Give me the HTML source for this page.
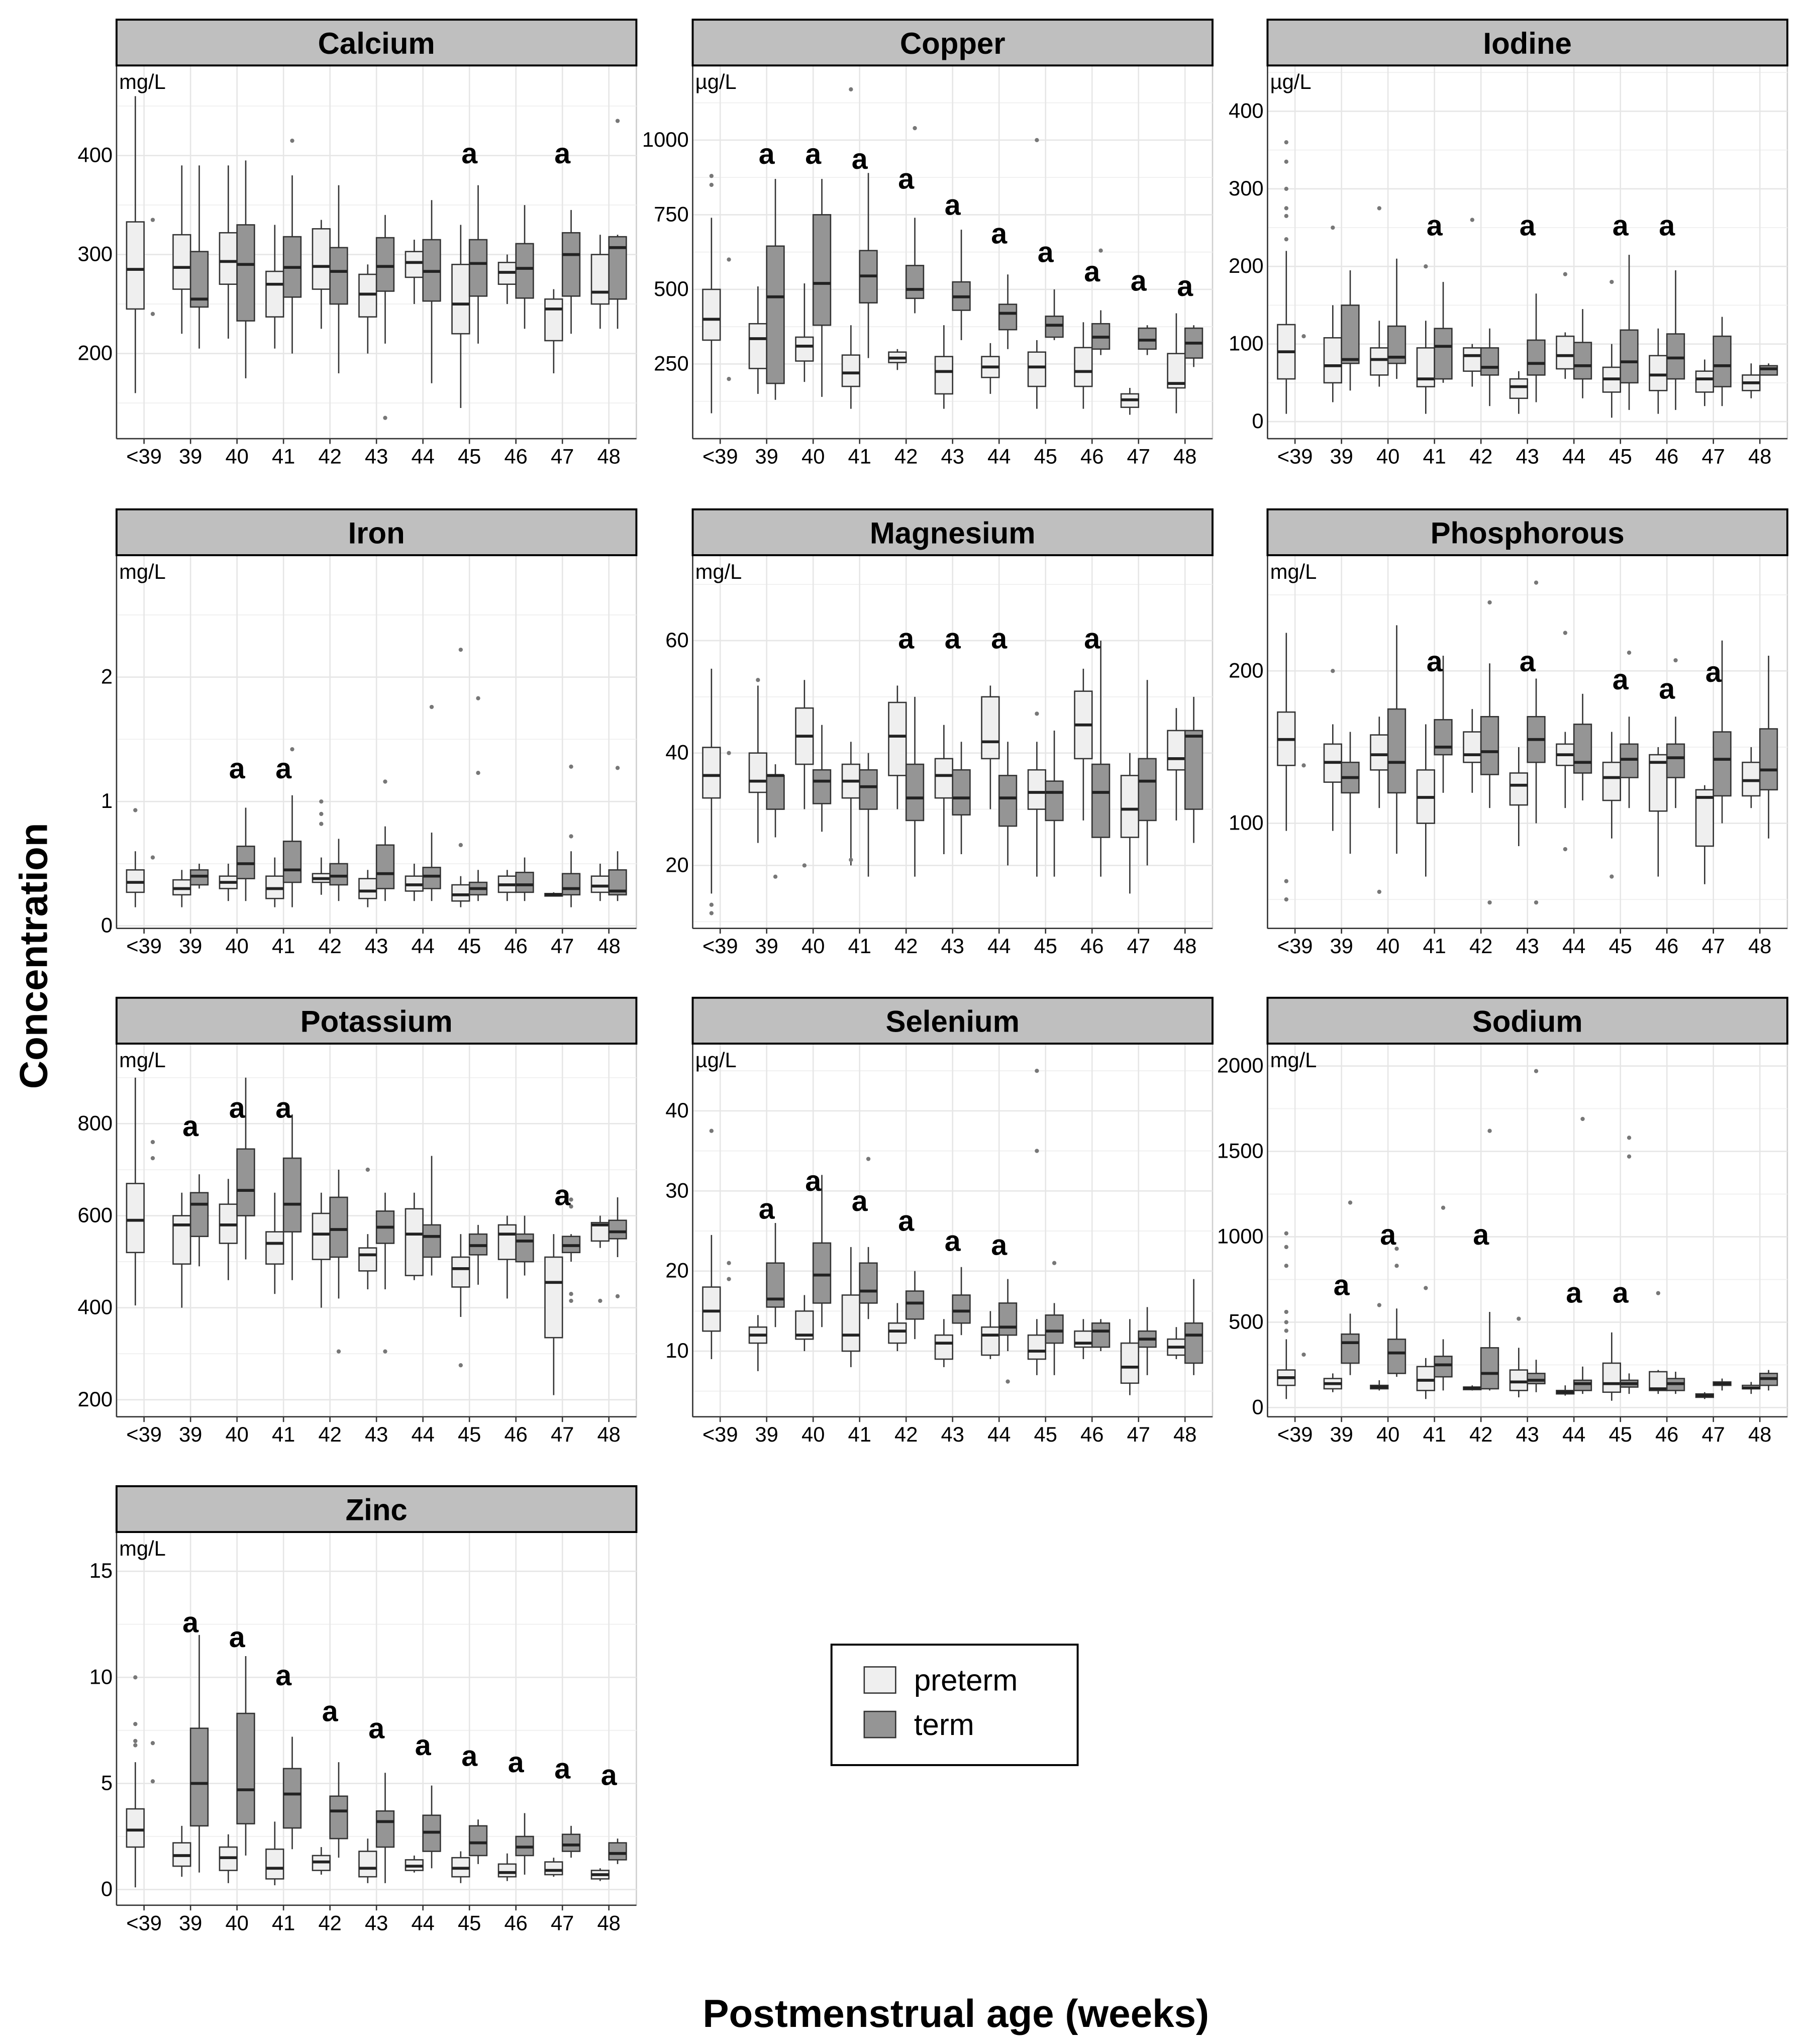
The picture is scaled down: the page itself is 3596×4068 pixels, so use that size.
<!DOCTYPE html>
<html><head><meta charset="utf-8"><style>
html,body{margin:0;padding:0;background:#fff;}
svg{display:block;}
text{font-family:"Liberation Sans","DejaVu Sans",sans-serif;}
</style></head><body>
<svg id="chart" width="3596" height="4068" viewBox="0 0 1380 1561" preserveAspectRatio="none" xmlns="http://www.w3.org/2000/svg">
<rect x="0" y="0" width="1380" height="1561" fill="#fff"/>
<text x="28" y="730" transform="rotate(-90 28 730)" text-anchor="middle" dominant-baseline="middle" font-size="30" font-weight="bold">Concentration</text>
<text x="730" y="1548" text-anchor="middle" font-size="30" font-weight="bold">Postmenstrual age (weeks)</text>
<g>
<rect x="635" y="1256" width="188" height="92" fill="#fff" stroke="#000" stroke-width="1.5"/>
<rect x="660" y="1273" width="24" height="20" fill="#efefef" stroke="#333"/>
<text x="698" y="1291" font-size="23">preterm</text>
<rect x="660" y="1307" width="24" height="20" fill="#959595" stroke="#333"/>
<text x="698" y="1325" font-size="23">term</text>
</g>
<g id="panels"></g>
</svg>
<script>
const categories = ["<39","39","40","41","42","43","44","45","46","47","48"];

const calciumPreterm = [[160,245,285,333,460],[220,265,287,320,390],[215,270,293,322,390],[205,237,270,283,330],[225,265,288,326,335],[200,237,260,280,290],[250,277,292,303,315],[145,220,250,290,330],[250,270,282,292,300],[180,213,245,255,265],[225,250,262,300,320]];
const calciumTerm = [null,[205,247,255,303,390],[175,233,290,330,395],[200,257,287,318,380],[180,250,283,307,370],[210,263,288,317,340],[170,253,283,315,355],[210,258,291,315,370],[225,256,286,311,350],[220,258,300,322,345],[225,255,307,318,320]];
const calciumSig = [null,null,null,null,null,null,null,400,null,400,null];
const calciumOut = [[0,1,335],[0,1,240],[3,1,415],[5,1,135],[10,1,435]];

const copperPreterm = [[85,330,400,500,740],[150,235,335,385,510],[190,260,310,340,520],[100,175,220,280,380],[230,255,270,290,300],[100,150,225,275,380],[150,205,240,275,320],[100,175,240,290,330],[100,175,225,305,390],[80,105,130,150,170],[85,170,185,285,420]];
const copperTerm = [null,[130,185,475,645,870],[140,380,520,750,870],[270,455,545,630,890],[420,470,500,580,740],[330,430,475,525,700],[300,365,420,450,550],[330,340,380,410,500],[280,300,340,385,430],[280,300,330,370,380],[240,270,320,370,380]];
const copperSig = [null,947,947,930,864,776,680,618,553,522,504];
const copperOut = [[0,0,880],[0,0,850],[0,1,600],[0,1,200],[3,0,1170],[4,1,1040],[7,0,1000],[8,1,630]];

const iodinePreterm = [[10,55,90,125,220],[25,50,72,108,150],[45,60,80,95,130],[10,45,55,95,130],[45,65,85,95,100],[10,30,45,55,65],[55,68,85,110,115],[5,38,55,70,100],[10,40,60,85,120],[20,38,55,65,80],[30,40,50,60,75]];
const iodineTerm = [null,[40,75,80,150,195],[55,75,83,123,210],[50,55,97,120,180],[20,60,70,95,120],[25,60,75,105,165],[30,55,72,102,145],[15,50,77,118,215],[15,55,82,113,195],[20,45,72,110,135],[60,60,68,72,75]];
const iodineSig = [null,null,null,250,null,250,null,250,250,null,null];
const iodineOut = [[0,0,360],[0,0,335],[0,0,300],[0,0,275],[0,0,265],[0,0,235],[0,1,110],[1,0,250],[2,0,275],[3,0,200],[4,0,260],[6,0,190],[7,0,180]];

const ironPreterm = [[0.15,0.27,0.35,0.45,0.6],[0.15,0.25,0.3,0.37,0.45],[0.2,0.3,0.35,0.4,0.5],[0.15,0.22,0.3,0.4,0.55],[0.25,0.35,0.38,0.42,0.55],[0.15,0.22,0.28,0.38,0.45],[0.2,0.28,0.33,0.4,0.5],[0.15,0.2,0.25,0.33,0.4],[0.2,0.27,0.33,0.4,0.45],[0.24,0.24,0.25,0.26,0.27],[0.2,0.27,0.32,0.4,0.5]];
const ironTerm = [null,[0.3,0.33,0.4,0.45,0.5],[0.2,0.38,0.5,0.64,0.95],[0.15,0.35,0.45,0.68,1.05],[0.2,0.33,0.4,0.5,0.7],[0.2,0.3,0.42,0.65,0.8],[0.2,0.3,0.4,0.47,0.75],[0.2,0.25,0.3,0.35,0.45],[0.2,0.27,0.33,0.43,0.55],[0.15,0.25,0.3,0.42,0.6],[0.2,0.25,0.28,0.45,0.6]];
const ironSig = [null,null,1.25,1.25,null,null,null,null,null,null,null];
const ironOut = [[0,0,0.93],[0,1,0.55],[3,1,1.42],[4,0,1.0],[4,0,0.9],[4,0,0.82],[5,1,1.16],[6,1,1.76],[7,0,2.22],[7,1,1.83],[7,1,1.23],[7,0,0.65],[9,1,1.28],[9,1,0.72],[10,1,1.27]];

const magnesiumPreterm = [[15,32,36,41,55],[24,33,35,40,52],[30,38,43,48,53],[20,32,35,38,42],[30,36,43,49,52],[22,32,36,39,45],[30,39,42,50,52],[18,30,33,37,42],[28,39,45,51,55],[15,25,30,36,40],[28,37,39,44,48]];
const magnesiumTerm = [null,[25,30,36,36,38],[26,31,35,37,45],[18,30,34,37,40],[18,28,32,38,50],[22,29,32,37,42],[20,27,32,36,42],[18,28,33,35,44],[18,25,33,38,60],[20,28,35,39,53],[24,30,43,44,50]];
const magnesiumSig = [null,null,null,null,60,60,60,null,60,null,null];
const magnesiumOut = [[0,0,13],[0,0,11.5],[0,1,40],[1,0,53],[1,1,18],[2,0,20],[7,0,47],[3,0,21]];

const phosphorousPreterm = [[95,138,155,173,225],[95,127,140,152,165],[110,135,145,158,170],[65,100,117,135,165],[120,140,145,160,175],[85,112,125,133,150],[110,138,145,152,160],[90,115,130,140,160],[65,108,140,145,150],[60,85,117,122,125],[110,118,128,140,150]];
const phosphorousTerm = [null,[80,120,130,140,160],[80,120,140,175,230],[120,145,150,168,210],[110,132,147,170,205],[100,140,155,170,195],[115,133,140,165,185],[110,130,142,152,170],[110,130,143,152,170],[100,118,142,160,220],[90,122,135,162,210]];
const phosphorousSig = [null,null,null,205,null,205,null,193,187,198,null];
const phosphorousOut = [[0,0,62],[0,0,50],[0,1,138],[1,0,200],[2,0,55],[4,1,245],[4,1,48],[5,1,258],[5,1,48],[6,0,225],[6,0,83],[7,0,65],[7,1,212],[8,1,207]];

const potassiumPreterm = [[405,520,590,670,900],[400,495,580,600,650],[460,540,580,625,680],[430,495,540,565,650],[400,505,560,605,650],[440,480,515,530,560],[460,470,560,615,650],[380,445,485,510,560],[420,505,560,580,600],[210,335,455,510,560],[530,545,580,585,600]];
const potassiumTerm = [null,[490,555,625,650,690],[505,600,655,745,900],[460,565,625,725,820],[420,510,570,640,700],[440,540,575,610,650],[470,510,555,580,730],[450,515,535,560,580],[470,500,545,560,600],[500,520,535,555,560],[510,550,565,590,640]];
const potassiumSig = [null,790,830,830,null,null,null,null,null,640,null];
const potassiumOut = [[0,1,760],[0,1,725],[4,1,305],[5,1,305],[5,0,700],[7,0,275],[9,1,635],[9,1,620],[9,1,430],[9,1,415],[10,0,415],[10,1,425]];

const seleniumPreterm = [[9,12.5,15,18,24.5],[7.5,11,12,13,14.5],[10,11.5,12,15,17],[8,10,12,17,23],[10,11,12.5,13.5,16],[8,9,11,12,14],[9,9.5,12,13,15],[7,9,10,12,14],[9,10.5,11,12.5,14],[4.5,6,8,11,14],[9,9.5,10.5,11.5,13]];
const seleniumTerm = [null,[13,15.5,16.5,21,26],[13,16,19.5,23.5,32],[14,16,17.5,21,23],[11.5,14,16,17.5,20],[12,13.5,15,17,20.5],[10,12,13,16,19],[7,11,12.5,14.5,16],[10,10.5,12.5,13.5,14],[7,10.5,11.5,12.5,15.5],[7,8.5,12,13.5,19]];
const seleniumSig = [null,27.5,31,28.5,26,23.5,23,null,null,null,null];
const seleniumOut = [[0,0,37.5],[0,1,21],[0,1,19],[3,1,34],[7,0,45],[7,0,35],[7,1,21],[6,1,6.2]];

const sodiumPreterm = [[50,130,175,220,400],[90,110,140,170,200],[100,110,120,130,160],[50,100,160,240,290],[100,105,115,120,130],[60,100,150,220,350],[70,80,90,100,130],[40,90,140,260,440],[80,100,110,210,220],[50,60,70,80,90],[80,110,115,130,150]];
const sodiumTerm = [null,[190,260,380,430,550],[180,200,320,400,580],[100,180,250,300,400],[100,110,200,350,560],[90,140,160,200,280],[80,100,140,160,240],[80,120,140,160,200],[80,100,140,170,210],[100,130,140,150,170],[100,130,170,200,220]];
const sodiumSig = [null,705,1000,null,1000,null,660,660,null,null,null];
const sodiumOut = [[0,0,1020],[0,0,940],[0,0,830],[0,0,560],[0,0,500],[0,0,450],[0,1,310],[1,1,1200],[2,1,930],[2,1,830],[2,0,600],[3,0,700],[3,1,1170],[4,1,1620],[5,1,1970],[5,0,520],[6,1,1690],[7,1,1580],[7,1,1470],[8,0,670]];

const zincPreterm = [[0.1,2,2.8,3.8,6],[0.6,1.1,1.6,2.2,3],[0.3,0.9,1.5,2,2.6],[0.2,0.5,1,1.9,3.2],[0.7,0.9,1.3,1.6,2],[0.3,0.6,1,1.8,2.4],[0.8,0.9,1.1,1.4,1.6],[0.3,0.6,1,1.5,1.8],[0.4,0.6,0.8,1.2,1.7],[0.6,0.7,0.9,1.3,1.5],[0.4,0.5,0.7,0.9,1]];
const zincTerm = [null,[0.8,3,5,7.6,12],[1.6,3.1,4.7,8.3,11],[1.9,2.9,4.5,5.7,7.2],[1.5,2.4,3.7,4.4,6],[0.3,2,3.2,3.7,5.5],[1,1.8,2.7,3.5,4.9],[1.2,1.6,2.2,3,3.3],[0.7,1.6,2,2.5,3.6],[1.5,1.8,2.1,2.6,3],[1.2,1.4,1.7,2.2,2.4]];
const zincSig = [null,12.5,11.8,10,8.3,7.5,6.7,6.2,5.9,5.6,5.3];
const zincOut = [[0,0,10],[0,0,7.8],[0,0,7],[0,0,6.8],[0,1,6.9],[0,1,5.1]];

const panelNames = ["Calcium","Copper","Iodine","Iron","Magnesium","Phosphorous","Potassium","Selenium","Sodium","Zinc"];
const panelUnits = ["mg/L","µg/L","µg/L","mg/L","mg/L","mg/L","mg/L","µg/L","mg/L","mg/L"];
const panelTicks = [[200,300,400],[250,500,750,1000],[0,100,200,300,400],[0,1,2],[20,40,60],[100,200],[200,400,600,800],[10,20,30,40],[0,500,1000,1500,2000],[0,5,10,15]];
const panelDomains = [[114,491],[0,1250],[-22,459],[-0.02,2.98],[8.8,75.2],[31,276],[163,974],[1.8,48.4],[-54,2131],[-0.74,16.85]];
const panelPreterm = [calciumPreterm,copperPreterm,iodinePreterm,ironPreterm,magnesiumPreterm,phosphorousPreterm,potassiumPreterm,seleniumPreterm,sodiumPreterm,zincPreterm];
const panelTerm = [calciumTerm,copperTerm,iodineTerm,ironTerm,magnesiumTerm,phosphorousTerm,potassiumTerm,seleniumTerm,sodiumTerm,zincTerm];
const panelSig = [calciumSig,copperSig,iodineSig,ironSig,magnesiumSig,phosphorousSig,potassiumSig,seleniumSig,sodiumSig,zincSig];
const panelOut = [calciumOut,copperOut,iodineOut,ironOut,magnesiumOut,phosphorousOut,potassiumOut,seleniumOut,sodiumOut,zincOut];

const NS = "http://www.w3.org/2000/svg";
const root = document.getElementById("panels");
function mk(tag, attrs, parent, txt){
  const e = document.createElementNS(NS, tag);
  for (const k in attrs) e.setAttribute(k, attrs[k]);
  if (txt !== undefined) e.textContent = txt;
  parent.appendChild(e);
  return e;
}
const colX = [89, 529, 968];
const rowY = [15, 389, 762, 1135];
const PW = 397, SH = 35, PH = 285;

panelNames.forEach((name, p) => {
  const x0 = colX[p % 3], top = rowY[Math.floor(p / 3)];
  const py0 = top + SH, py1 = py0 + PH;
  const dom = panelDomains[p];
  const ys = v => py1 - (v - dom[0]) / (dom[1] - dom[0]) * PH;
  const step = (PW - 42) / 10;
  const xs = i => x0 + 21 + i * step;
  const bw = step * 0.375;
  const slug = name.toLowerCase();

  const g = mk("g", {}, root);
  
  

  mk("rect", {x:x0, y:py0, width:PW, height:PH, fill:"#fff", stroke:"#cfcfcf", "stroke-width":1}, g);
  const ticks = panelTicks[p];
  const tstep = ticks[1] - ticks[0];
  for (let v = ticks[0] - tstep * 3; v <= dom[1] + tstep; v += tstep / 2) {
    if (v < dom[0] || v > dom[1]) continue;
    mk("line", {x1:x0, x2:x0+PW, y1:ys(v), y2:ys(v), stroke:"#f1f1f1", "stroke-width":0.8}, g);
  }
  ticks.forEach(t => {
    mk("line", {x1:x0, x2:x0+PW, y1:ys(t), y2:ys(t), stroke:"#e6e6e6", "stroke-width":1}, g);
    const tl = mk("text", {x:x0-3, y:ys(t)+5, "text-anchor":"end", "font-size":16}, g, String(t));
    
    
  });
  categories.forEach((c, i) => {
    mk("line", {x1:xs(i), x2:xs(i), y1:py0, y2:py1, stroke:"#e6e6e6", "stroke-width":1}, g);
    mk("line", {x1:xs(i), x2:xs(i), y1:py1, y2:py1+4, stroke:"#333", "stroke-width":1}, g);
    const cl = mk("text", {x:xs(i), y:py1+19, "text-anchor":"middle", "font-size":16}, g, c);
    
    
  });
  mk("line", {x1:x0, x2:x0, y1:py0, y2:py1, stroke:"#333", "stroke-width":1}, g);
  mk("line", {x1:x0, x2:x0+PW, y1:py1, y2:py1, stroke:"#333", "stroke-width":1}, g);

  const strip = mk("rect", {x:x0, y:top, width:PW, height:SH, fill:"#bfbfbf", stroke:"#000", "stroke-width":1.5}, g);
  
  
  const st = mk("text", {x:x0+PW/2, y:top+26, "text-anchor":"middle", "font-size":23, "font-weight":"bold"}, g, name);
  
  
  const ut = mk("text", {x:x0+2, y:py0+18, "font-size":16}, g, panelUnits[p]);
  
  

  function box(d, cx, fill, grp, i) {
    if (!d) return;
    const b = mk("g", {}, g);
    
    
    mk("line", {x1:cx, x2:cx, y1:ys(d[0]), y2:ys(d[1]), stroke:"#333", "stroke-width":1}, b);
    mk("line", {x1:cx, x2:cx, y1:ys(d[3]), y2:ys(d[4]), stroke:"#333", "stroke-width":1}, b);
    mk("rect", {x:cx-bw/2, y:ys(d[3]), width:bw, height:Math.max(0.5, ys(d[1])-ys(d[3])), fill:fill, stroke:"#333", "stroke-width":1}, b);
    mk("line", {x1:cx-bw/2, x2:cx+bw/2, y1:ys(d[2]), y2:ys(d[2]), stroke:"#222", "stroke-width":2.2}, b);
  }
  panelPreterm[p].forEach((d, i) => box(d, xs(i) - bw/2, "#efefef", "preterm", i));
  panelTerm[p].forEach((d, i) => box(d, xs(i) + bw/2, "#959595", "term", i));
  panelOut[p].forEach(o => {
    const c = mk("circle", {cx:xs(o[0]) + (o[1] ? bw/2 : -bw/2), cy:ys(o[2]), r:1.6, fill:"#777"}, g);
    
    
  });
  panelSig[p].forEach((v, i) => {
    if (v === null) return;
    const a = mk("text", {x:xs(i), y:ys(v)+6, "text-anchor":"middle", "font-size":22, "font-weight":"bold"}, g, "a");
    
    
  });
});
</script>
</body></html>
